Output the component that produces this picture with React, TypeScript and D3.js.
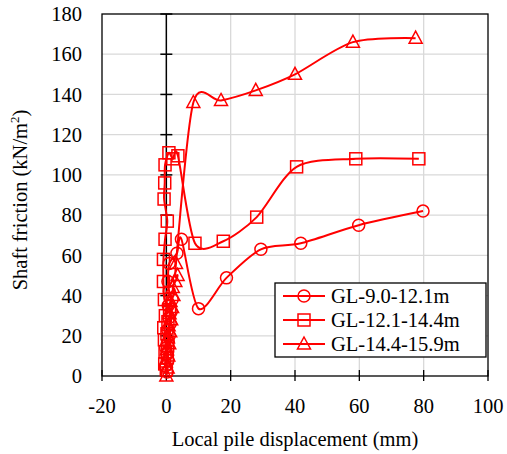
import React from "react";
import * as d3 from "d3";

const xTicks = [-20, 0, 20, 40, 60, 80, 100];
const yTicks = [0, 20, 40, 60, 80, 100, 120, 140, 160, 180];

const seriesNames = ["GL-9.0-12.1m", "GL-12.1-14.4m", "GL-14.4-15.9m"];
const markerTypes = ["circle", "square", "triangle"];

// GL-9.0-12.1m
const disp1 = [0.2, -0.3, 0.5, 0.2, -0.2, 0.6, 0.9, 0.4, 1.2, 0.8, 1.5, 0.6, 1.8, 0.9, 0.5, 0.9, 3.3, 4.7, 10, 18.7, 29.4, 41.8, 59.8, 79.8];
const fric1 = [2, 5, 8, 11, 14, 17, 20, 23, 26, 29, 32, 35, 38, 42, 47, 56, 61, 68, 33.5, 48.8, 63, 66, 75, 82];

// GL-12.1-14.4m
const disp2 = [0, -0.5, 0.3, -0.4, 0.4, -0.6, 0.2, -0.8, 0.5, -0.3, 1, -0.6, -0.9, -0.9, -0.4, 0.3, -0.7, -0.5, -0.4, 0.8, 2, 3.6, 8.9, 17.7, 28.1, 40.5, 58.9, 78.5];
const fric2 = [3, 6, 9, 12, 15, 18, 21, 24, 27, 30, 33, 38, 47, 58, 68, 77, 88, 96, 105, 111, 108, 109.5, 66, 67, 79, 104, 108, 108];

// GL-14.4-15.9m
const disp3 = [0, 0.4, -0.2, 0.6, 0.2, 0.9, 0.5, 1.2, 0.7, 1.5, 1, 1.8, 1.3, 2.2, 2, 2.8, 3.5, 3, 8.4, 17, 27.8, 40, 58, 77.5];
const fric3 = [0, 4, 7, 10, 13, 16, 19, 22, 25, 28, 31, 34, 37, 40, 44, 47, 50, 56, 136, 137, 142, 150, 166, 168];

const dispList = [disp1, disp2, disp3];
const fricList = [fric1, fric2, fric3];

const W = 507;
const H = 454;
const margin = { top: 14, right: 19, bottom: 78, left: 102 };
const RED = "#ff0000";
const FONT = "Liberation Serif, serif";
const FS = 20.5;

const x = d3.scaleLinear().domain([-20, 100]).range([margin.left, W - margin.right]);
const y = d3.scaleLinear().domain([0, 180]).range([H - margin.bottom, margin.top]);
const lineGen = d3.line<[number, number]>().curve(d3.curveCardinal.tension(0.15));

function Marker({ type, cx, cy }: { type: string; cx: number; cy: number }) {
  const common = { fill: "none", stroke: RED, strokeWidth: 1.5 };
  if (type === "circle") return <circle cx={cx} cy={cy} r={6} {...common} />;
  if (type === "square") return <rect x={cx - 6} y={cy - 6} width={12} height={12} {...common} />;
  return <path d={`M${cx},${cy - 7}L${cx + 6.5},${cy + 5}L${cx - 6.5},${cy + 5}Z`} {...common} />;
}

export default function App() {
  const textStyle = { fontFamily: FONT, fontSize: FS };
  return (
    <svg width={W} height={H} style={{ position: "absolute", left: 0, top: 0, background: "#fff" }}>
      {/* grid */}
      {yTicks.slice(1, -1).map((t) => (
        <line key={"gh" + t} x1={x(-20)} x2={x(100)} y1={y(t)} y2={y(t)} stroke="#d9d9d9" strokeWidth={1.3} />
      ))}
      {xTicks.filter((t) => t > 0 && t < 100).map((t) => (
        <line key={"gv" + t} x1={x(t)} x2={x(t)} y1={y(0)} y2={y(180)} stroke="#d9d9d9" strokeWidth={1.3} />
      ))}
      {/* frame */}
      <rect x={x(-20)} y={y(180)} width={x(100) - x(-20)} height={y(0) - y(180)}
        fill="none" stroke="#000" strokeWidth={1.3} />
      {/* y axis at x = 0 */}
      <line x1={x(0)} x2={x(0)} y1={y(0)} y2={y(180)} stroke="#000" strokeWidth={1.5} />
      {yTicks.map((t) => (
        <line key={"yt" + t} x1={x(0) - 6} x2={x(0) + 6} y1={y(t)} y2={y(t)} stroke="#000" strokeWidth={1.5} />
      ))}
      {xTicks.map((t) => (
        <line key={"xt" + t} x1={x(t)} x2={x(t)} y1={y(0) - 6} y2={y(0) + 5} stroke="#000" strokeWidth={1.3} />
      ))}
      {/* tick labels */}
      {yTicks.map((t) => (
        <text key={"yl" + t} x={x(-20) - 20} y={y(t)} dy="0.35em" textAnchor="end" style={textStyle}>{t}</text>
      ))}
      {xTicks.map((t) => (
        <text key={"xl" + t} x={x(t)} y={y(0) + 37} textAnchor="middle" style={textStyle}>{t}</text>
      ))}
      {/* titles */}
      <text x={x(40)} y={y(0) + 70} textAnchor="middle" style={textStyle}>Local pile displacement (mm)</text>
      <text transform={`translate(27,${(y(0) + y(180)) / 2 + 5}) rotate(-90)`} textAnchor="middle" style={textStyle}>
        Shaft friction (kN/m<tspan dy={-8} style={{ fontSize: 13 }}>2</tspan><tspan dy={8}>)</tspan>
      </text>
      {/* series */}
      {dispList.map((disp, i) => {
        const pts = disp.map((d, j) => [x(d), y(fricList[i][j])] as [number, number]);
        return (
          <g key={"s" + i}>
            <path d={lineGen(pts) || ""} fill="none" stroke={RED} strokeWidth={2} />
            {pts.map((p, j) => <Marker key={j} type={markerTypes[i]} cx={p[0]} cy={p[1]} />)}
          </g>
        );
      })}
      {/* legend */}
      <rect x={275} y={283} width={211} height={74} fill="#fff" stroke="#000" strokeWidth={1.3} />
      {seriesNames.map((name, i) => {
        const cy = 296 + i * 24;
        return (
          <g key={name}>
            <line x1={283} x2={325} y1={cy} y2={cy} stroke={RED} strokeWidth={2} />
            <Marker type={markerTypes[i]} cx={304} cy={cy} />
            <text x={331} y={cy} dy="0.35em" style={textStyle}>{name}</text>
          </g>
        );
      })}
    </svg>
  );
}
